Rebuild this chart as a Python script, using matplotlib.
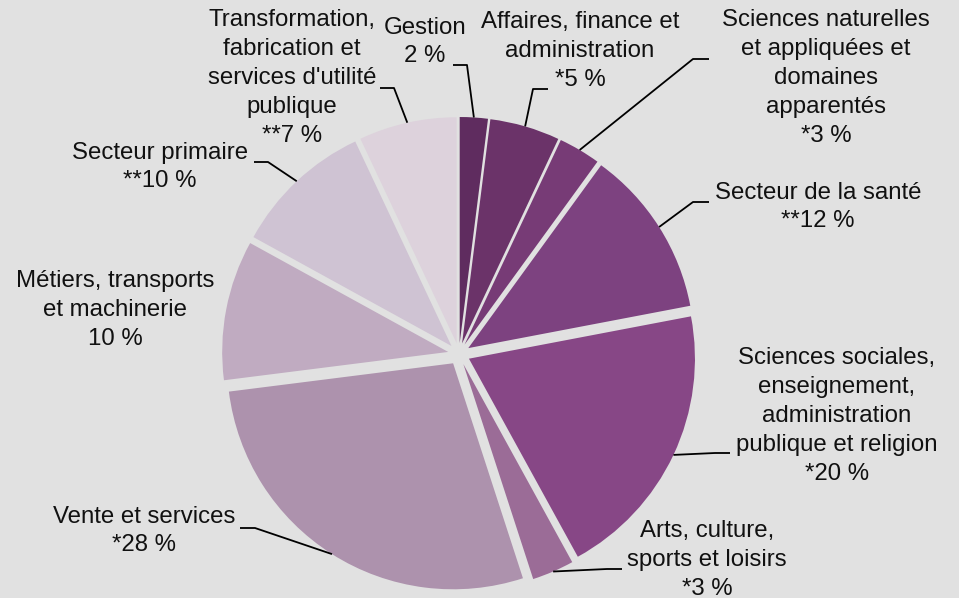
import numpy as np
import matplotlib.pyplot as plt

# parts des professions, dans le sens horaire depuis midi
categories = ['Gestion', 'Affaires, finance et\nadministration',
              'Sciences naturelles\net appliquées et\ndomaines\napparentés',
              'Secteur de la santé',
              'Sciences sociales,\nenseignement,\nadministration\npublique et religion',
              'Arts, culture,\nsports et loisirs',
              'Vente et services',
              'Métiers, transports\net machinerie',
              'Secteur primaire',
              'Transformation,\nfabrication et\nservices d\'utilité\npublique']
values = [2, 5, 3, 12, 20, 3, 28, 10, 10, 7]
value_labels = ['2 %', '*5 %', '*3 %', '**12 %', '*20 %', '*3 %', '*28 %', '10 %', '**10 %', '**7 %']
colors = ['#5f2c5f', '#6b3369', '#773b76', '#7d4280', '#874786',
          '#9b6c97', '#ad92ad', '#c0abc1', '#cfc3d3', '#ddd2dc']

bg = '#e1e1e1'
plt.rcParams['font.family'] = ['Liberation Sans', 'DejaVu Sans']

fig = plt.figure(figsize=(9.59, 5.98), dpi=100, facecolor=bg)
ax = fig.add_axes([0, 0, 1, 1])
ax.set_facecolor(bg)

cx, cy, r, gap = 459, 354, 226, 11
wedges, _ = ax.pie(values, colors=colors, center=(cx, cy), radius=r,
                   startangle=-90, counterclock=True, explode=[gap] * len(values),
                   wedgeprops=dict(linewidth=0))

ax.set_xlim(0, 959)
ax.set_ylim(598, 0)
ax.set_aspect('equal')
ax.axis('off')

# position du texte et petit segment horizontal du trait de rappel
text_pos = [(425, 42), (580, 51), (826, 78), (818, 207), (837, 416),
            (707, 560), (144, 531), (115, 310), (160, 167), (292, 78)]
knees = [((453, 65), (467, 65)), ((548, 89), (533, 89)), ((709, 59), (693, 59)),
         ((709, 202), (693, 202)), ((730, 453), (715, 453)), ((622, 569), (607, 569)),
         ((240, 528), (255, 528)), None, ((254, 162), (268, 162)), ((380, 88), (394, 88))]

for w, cat, val, pos, kn in zip(wedges, categories, value_labels, text_pos, knees):
    ax.text(pos[0], pos[1], cat + '\n' + val, ha='center', va='center',
            fontsize=17.3, linespacing=1.40, color='#111111')
    if kn is None:
        continue
    mid = np.deg2rad((w.theta1 + w.theta2) / 2)
    ex = w.center[0] + r * np.cos(mid)
    ey = w.center[1] + r * np.sin(mid)
    ax.plot([kn[0][0], kn[1][0], ex], [kn[0][1], kn[1][1], ey],
            color='black', lw=1.3, solid_capstyle='butt')

plt.savefig('out.png', dpi=100, facecolor=bg)
